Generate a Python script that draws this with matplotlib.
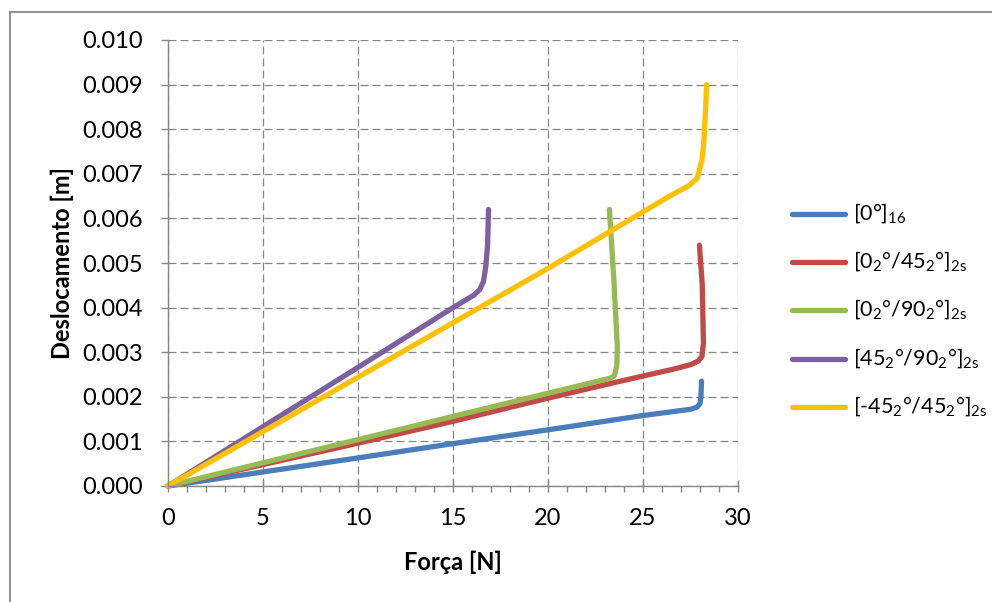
import matplotlib
matplotlib.use('Agg')
import matplotlib.pyplot as plt
from matplotlib.lines import Line2D
from matplotlib.patches import Rectangle
from matplotlib.ticker import MultipleLocator, FormatStrFormatter

plt.rcParams['font.family'] = ['Lato', 'DejaVu Sans']
plt.rcParams['mathtext.fontset'] = 'custom'
plt.rcParams['mathtext.rm'] = 'Lato'

# force [N] vs displacement [m] for each laminate
f_0_16 = [0, 5, 10, 15, 20, 25, 27.5, 27.85, 28.0, 28.05, 28.08]
d_0_16 = [0, 0.000315, 0.00063, 0.00095, 0.00126, 0.00158, 0.00172, 0.00177, 0.00185, 0.0020, 0.00235]

f_0_45 = [0, 10, 15, 20, 23.5, 26.6, 27.5, 27.9, 28.1, 28.18, 28.12, 27.97]
d_0_45 = [0, 0.00096, 0.00145, 0.00197, 0.00232, 0.00262, 0.00272, 0.0028, 0.0029, 0.0032, 0.0045, 0.0054]

f_0_90 = [0, 10, 20, 23.3, 23.5, 23.62, 23.65, 23.47, 23.23]
d_0_90 = [0, 0.00104, 0.00208, 0.00242, 0.00248, 0.0027, 0.0031, 0.0046, 0.0062]

f_45_90 = [0, 10, 15, 16.1, 16.4, 16.6, 16.72, 16.82, 16.87]
d_45_90 = [0, 0.00266, 0.0040, 0.00428, 0.00440, 0.00458, 0.0049, 0.0054, 0.0062]

f_m45_45 = [0, 10, 20, 26.4, 27.4, 27.85, 28.1, 28.2, 28.3, 28.35]
d_m45_45 = [0, 0.00244, 0.00488, 0.0065, 0.00673, 0.0069, 0.0073, 0.0077, 0.0085, 0.0090]

labels = [r'[0°]$_{\mathregular{16}}$',
          r'[0$_{\mathregular{2}}$°/45$_{\mathregular{2}}$°]$_{\mathregular{2s}}$',
          r'[0$_{\mathregular{2}}$°/90$_{\mathregular{2}}$°]$_{\mathregular{2s}}$',
          r'[45$_{\mathregular{2}}$°/90$_{\mathregular{2}}$°]$_{\mathregular{2s}}$',
          r'[-45$_{\mathregular{2}}$°/45$_{\mathregular{2}}$°]$_{\mathregular{2s}}$']
colors = ['#4A7EBB', '#BE4B48', '#98B954', '#7D60A0', '#FFC000']

series = [(f_0_16, d_0_16), (f_0_45, d_0_45), (f_0_90, d_0_90),
          (f_45_90, d_45_90), (f_m45_45, d_m45_45)]

fig = plt.figure(figsize=(9.92, 6.02), dpi=100)
ax = fig.add_axes([168 / 992, 1 - 486 / 602, 570 / 992, 446 / 602])

for (f, d), c in zip(series, colors):
    ax.plot(f, d, color=c, lw=3.8, solid_capstyle='round', solid_joinstyle='round', clip_on=False)

ax.set_xlim(0, 30)
ax.set_ylim(0, 0.010)
ax.xaxis.set_major_locator(MultipleLocator(5))
ax.xaxis.set_minor_locator(MultipleLocator(1))
ax.yaxis.set_major_locator(MultipleLocator(0.001))
ax.yaxis.set_major_formatter(FormatStrFormatter('%.3f'))

grey = '#868686'
ax.grid(True, which='major', color=grey, lw=0.9, linestyle=(0, (6.4, 3.2)))
ax.set_axisbelow(True)
for s in ['top', 'right']:
    ax.spines[s].set_visible(False)
for s in ['left', 'bottom']:
    ax.spines[s].set_color(grey)
    ax.spines[s].set_linewidth(1.0)

ax.tick_params(axis='x', which='major', direction='inout', length=8, width=1.0, color=grey,
               labelsize=17, pad=12)
ax.tick_params(axis='x', which='minor', direction='out', length=4.5, width=1.0, color=grey)
ax.tick_params(axis='y', which='major', direction='out', length=5, width=1.0, color=grey,
               labelsize=17, pad=13)

fig.text(453 / 992, 1 - 562 / 602, 'Força [N]', ha='center', va='center',
         fontsize=17, fontweight='bold')
fig.text(62 / 992, 1 - 263 / 602, 'Deslocamento [m]', ha='center', va='center',
         rotation=90, fontsize=17, fontweight='bold')

# legend drawn by hand, one row per laminate
for i, (lab, c) in enumerate(zip(labels, colors)):
    y = 1 - (214 + i * 48.2) / 602
    fig.add_artist(Line2D([792 / 992, 845 / 992], [y, y], color=c, lw=3.8,
                          solid_capstyle='round', transform=fig.transFigure))
    fig.text(853 / 992, y, lab, ha='left', va='center', fontsize=15.5)

# chart border
fig.add_artist(Rectangle((9.5 / 992, -0.1), 1.2, (602 - 11.5) / 602 + 0.1,
                         transform=fig.transFigure, fill=False, ec=grey, lw=1.3))

fig.savefig('out.png', dpi=100)
